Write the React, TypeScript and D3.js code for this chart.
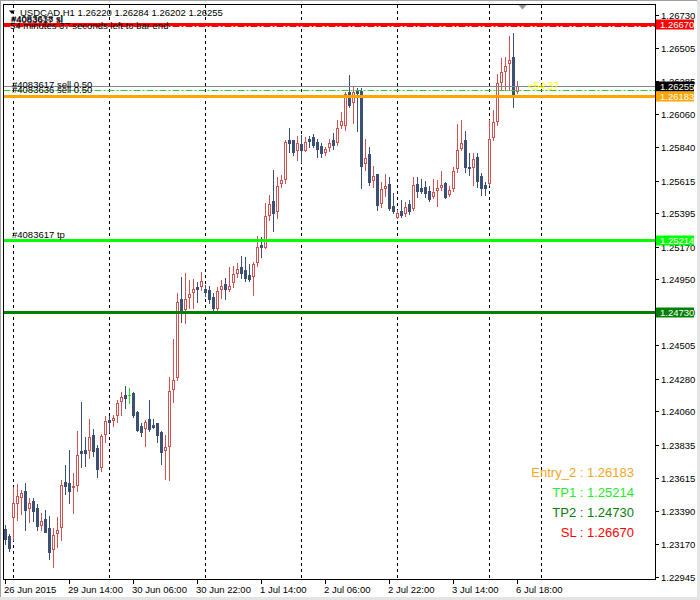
import React from 'react';
import * as d3 from 'd3';

// ---------- data ----------
const symbolTitle = 'USDCAD,H1  1.26220 1.26284 1.26202 1.26255';

const opens = [
  1.23270, 1.23221, 1.23351, 1.23445, 1.23486, 1.23524, 1.23412, 1.23457, 1.23410, 1.23297,
  1.23336, 1.23275, 1.23132, 1.23243, 1.23280, 1.23585, 1.23576, 1.23549, 1.23567, 1.23793,
  1.23800, 1.23802, 1.23901, 1.23814, 1.23688, 1.23906, 1.24000, 1.24002, 1.24034, 1.24128,
  1.24171, 1.24171, 1.24184, 1.24056, 1.23962, 1.23946, 1.24009, 1.23969, 1.23982, 1.23921,
  1.23802, 1.23829, 1.24213, 1.24294, 1.24815, 1.24748, 1.24828, 1.24866, 1.24900, 1.24905,
  1.24884, 1.24878, 1.24833, 1.24758, 1.24884, 1.24918, 1.24884, 1.24932, 1.24994, 1.25033,
  1.25012, 1.24979, 1.24970, 1.25068, 1.25181, 1.25169, 1.25383, 1.25479, 1.25412, 1.25596,
  1.25627, 1.25888, 1.25888, 1.25820, 1.25861, 1.25820, 1.25894, 1.25906, 1.25876, 1.25847,
  1.25809, 1.25839, 1.25888, 1.25876, 1.25989, 1.25989, 1.26213, 1.26146, 1.26224, 1.26218,
  1.25735, 1.25794, 1.25618, 1.25659, 1.25466, 1.25567, 1.25591, 1.25443, 1.25371, 1.25412,
  1.25398, 1.25457, 1.25428, 1.25589, 1.25567, 1.25573, 1.25544, 1.25513, 1.25551, 1.25573,
  1.25600, 1.25522, 1.25563, 1.25697, 1.25832, 1.25888, 1.25708, 1.25708, 1.25775, 1.25645,
  1.25585, 1.25596, 1.25910, 1.26018, 1.26280, 1.26354, 1.26404, 1.26445, 1.26220,
];
const highs = [
  1.23295, 1.23235, 1.23553, 1.23571, 1.23531, 1.23576, 1.23477, 1.23477, 1.23437, 1.23376,
  1.23396, 1.23356, 1.23273, 1.23351, 1.23598, 1.23699, 1.23800, 1.23643, 1.23928, 1.24123,
  1.23890, 1.24009, 1.23942, 1.23834, 1.23908, 1.24029, 1.24029, 1.24036, 1.24137, 1.24193,
  1.24231, 1.24216, 1.24193, 1.24063, 1.23980, 1.24002, 1.24137, 1.24007, 1.23985, 1.23930,
  1.23901, 1.24290, 1.24548, 1.24855, 1.24967, 1.24994, 1.24945, 1.24955, 1.24934, 1.24996,
  1.24911, 1.24907, 1.24860, 1.24900, 1.24945, 1.24956, 1.25030, 1.25039, 1.25057, 1.25107,
  1.25102, 1.25051, 1.25068, 1.25241, 1.25233, 1.25462, 1.25517, 1.25686, 1.25641, 1.25652,
  1.25888, 1.25967, 1.25890, 1.25915, 1.25921, 1.25910, 1.25915, 1.25928, 1.25892, 1.25866,
  1.25843, 1.25895, 1.25933, 1.26022, 1.26078, 1.26209, 1.26325, 1.26247, 1.26236, 1.26236,
  1.25895, 1.25839, 1.25713, 1.25662, 1.25607, 1.25659, 1.25641, 1.25533, 1.25416, 1.25484,
  1.25472, 1.25484, 1.25637, 1.25641, 1.25623, 1.25614, 1.25578, 1.25625, 1.25618, 1.25679,
  1.25607, 1.25578, 1.25704, 1.25996, 1.26022, 1.25950, 1.25798, 1.25798, 1.25798, 1.25664,
  1.25607, 1.26022, 1.26090, 1.26332, 1.26438, 1.26449, 1.26588, 1.26610, 1.26284,
];
const lows = [
  1.23167, 1.23122, 1.23194, 1.23329, 1.23369, 1.23261, 1.23317, 1.23322, 1.23261, 1.23261,
  1.23246, 1.23066, 1.23014, 1.23149, 1.23194, 1.23502, 1.23441, 1.23378, 1.23526, 1.23688,
  1.23692, 1.23744, 1.23762, 1.23620, 1.23661, 1.23856, 1.23921, 1.23962, 1.23991, 1.24036,
  1.24083, 1.24119, 1.24024, 1.23928, 1.23894, 1.23827, 1.23930, 1.23946, 1.23854, 1.23706,
  1.23603, 1.23598, 1.24125, 1.24272, 1.24664, 1.24657, 1.24754, 1.24754, 1.24795, 1.24878,
  1.24837, 1.24788, 1.24731, 1.24731, 1.24822, 1.24815, 1.24871, 1.24900, 1.24967, 1.24958,
  1.24940, 1.24938, 1.24844, 1.25037, 1.25102, 1.25161, 1.25349, 1.25277, 1.25361, 1.25573,
  1.25600, 1.25809, 1.25787, 1.25753, 1.25742, 1.25816, 1.25839, 1.25843, 1.25775, 1.25775,
  1.25787, 1.25816, 1.25825, 1.25854, 1.25967, 1.25955, 1.26110, 1.26004, 1.25950, 1.25563,
  1.25686, 1.25585, 1.25569, 1.25416, 1.25439, 1.25511, 1.25416, 1.25396, 1.25362, 1.25371,
  1.25376, 1.25389, 1.25416, 1.25506, 1.25531, 1.25506, 1.25479, 1.25497, 1.25443, 1.25551,
  1.25497, 1.25511, 1.25544, 1.25674, 1.25820, 1.25674, 1.25652, 1.25585, 1.25573, 1.25517,
  1.25517, 1.25585, 1.25888, 1.25989, 1.26224, 1.26224, 1.26224, 1.26112, 1.26202,
];
const closes = [
  1.23201, 1.23142, 1.23441, 1.23490, 1.23509, 1.23396, 1.23441, 1.23392, 1.23290, 1.23320,
  1.23250, 1.23115, 1.23228, 1.23261, 1.23563, 1.23560, 1.23526, 1.23560, 1.23765, 1.23782,
  1.23782, 1.23888, 1.23796, 1.23674, 1.23893, 1.23996, 1.23989, 1.24016, 1.24117, 1.24155,
  1.24152, 1.24171, 1.24038, 1.23937, 1.23923, 1.23989, 1.23944, 1.23953, 1.23901, 1.23789,
  1.23820, 1.24198, 1.24272, 1.24795, 1.24732, 1.24815, 1.24851, 1.24882, 1.24886, 1.24936,
  1.24862, 1.24814, 1.24758, 1.24871, 1.24905, 1.24884, 1.24905, 1.24985, 1.25017, 1.24994,
  1.24956, 1.24955, 1.25053, 1.25169, 1.25169, 1.25376, 1.25457, 1.25398, 1.25578, 1.25618,
  1.25874, 1.25870, 1.25809, 1.25866, 1.25820, 1.25876, 1.25881, 1.25854, 1.25825, 1.25802,
  1.25825, 1.25866, 1.25854, 1.25967, 1.26018, 1.26196, 1.26123, 1.26209, 1.26202, 1.25713,
  1.25765, 1.25607, 1.25645, 1.25450, 1.25556, 1.25578, 1.25428, 1.25412, 1.25394, 1.25383,
  1.25439, 1.25412, 1.25585, 1.25544, 1.25546, 1.25529, 1.25488, 1.25536, 1.25567, 1.25585,
  1.25506, 1.25551, 1.25679, 1.25820, 1.25866, 1.25704, 1.25701, 1.25758, 1.25614, 1.25567,
  1.25567, 1.25892, 1.26011, 1.26270, 1.26348, 1.26386, 1.26427, 1.26191, 1.26255,
];

const timeLabels = [
  '26 Jun 2015', '29 Jun 14:00', '30 Jun 06:00', '30 Jun 22:00', '1 Jul 14:00',
  '2 Jul 06:00', '2 Jul 22:00', '3 Jul 14:00', '6 Jul 18:00',
];
const timeLabelBars = [0, 16, 32, 48, 64, 80, 96, 112, 128];
const gridBars = [2, 26, 50, 74, 98, 121, 134];

const priceTicks = [
  1.26730, 1.26505, 1.26285, 1.26060, 1.25840, 1.25615, 1.25395, 1.25170, 1.24950,
  1.24730, 1.24505, 1.24280, 1.24060, 1.23835, 1.23615, 1.23390, 1.23170, 1.22945,
];

const levelNames = ['SL', 'Entry_2', 'TP1', 'TP2'];
const levelPrices = [1.26670, 1.26183, 1.25214, 1.24730];
const legendOrder = ['Entry_2', 'TP1', 'TP2', 'SL'];
const bidPrice = 1.26255;
const orderPrices = [1.26222, 1.26186];
const orderLabels = ['#4083617 sell 0.50', '#4083636 sell 0.50'];
const stopOrderPrice = 1.26657;
const stopLabels = ['#4083638 sl', '#4083617 sl'];
const tpLabel = '#4083617 tp';
const timerText = '54 minutes 37 seconds left to bar end';
const timerShort = '<54:37';

// ---------- styles ----------
const FONT = '"Liberation Sans", Arial, sans-serif';
const FS = 9.5;
const BULL = '#d25252';
const BEAR = '#3c4f74';
const DOJI = '#22dd22';
const levelColor: Record<string, string> = {
  SL: '#ff0000',
  Entry_2: '#ffa500',
  TP1: '#00ff00',
  TP2: '#008000',
};
const legendColor: Record<string, string> = {
  SL: '#ff0000',
  Entry_2: '#f5a623',
  TP1: '#22ee22',
  TP2: '#0a7d0a',
};

export default function App() {
  const W = 700, H = 600;
  const L = 3.5, T = 4.5, R = 655.5, B = 579.5;
  const x = d3.scaleLinear().domain([0, 128]).range([5, 517]);
  const y = d3.scaleLinear().domain([1.22945, 1.26730]).range([577, 15]);
  const py = (p: number) => Math.round(y(p));

  const candles = opens.map((o, i) => {
    const c = closes[i], h = highs[i], l = lows[i];
    const cx = x(i) + 0.5;
    const yo = py(o), yc = py(c), yh = py(h), yl = py(l);
    const top = Math.min(yo, yc), bot = Math.max(yo, yc);
    if (c > o) {
      return (
        <g key={i}>
          <line x1={cx} x2={cx} y1={yh} y2={yl + 1} stroke={BULL} strokeWidth={1} />
          <rect x={cx - 1} y={top + 0.5} width={2} height={Math.max(bot - top, 1)} fill="#fff" stroke={BULL} strokeWidth={1} />
        </g>
      );
    } else if (c < o) {
      return (
        <g key={i}>
          <line x1={cx} x2={cx} y1={yh} y2={yl + 1} stroke={BEAR} strokeWidth={1} />
          <rect x={cx - 1.5} y={top} width={3} height={bot - top + 1} fill={BEAR} />
        </g>
      );
    }
    return (
      <g key={i}>
        <line x1={cx} x2={cx} y1={yh} y2={yl + 1} stroke={DOJI} strokeWidth={1} />
        <line x1={cx - 1.5} x2={cx + 1.5} y1={yo + 0.5} y2={yo + 0.5} stroke={DOJI} strokeWidth={1} />
      </g>
    );
  });

  const hline = (p: number, color: string, width: number, dash?: string, key?: string) => (
    <line key={key} x1={L} x2={R} y1={py(p) + 0.5} y2={py(p) + 0.5} stroke={color} strokeWidth={width} strokeDasharray={dash} />
  );

  const boxes = [
    { p: levelPrices[levelNames.indexOf('SL')], fill: levelColor.SL },
    { p: bidPrice, fill: '#000000' },
    { p: levelPrices[levelNames.indexOf('Entry_2')], fill: levelColor.Entry_2 },
    { p: levelPrices[levelNames.indexOf('TP1')], fill: levelColor.TP1 },
    { p: levelPrices[levelNames.indexOf('TP2')], fill: levelColor.TP2 },
  ];

  return (
    <svg width={W} height={H} style={{ position: 'absolute', left: 0, top: 0, display: 'block' }} fontFamily={FONT}>
      <defs>
        <clipPath id="plotClip">
          <rect x={4} y={5} width={651} height={574} />
        </clipPath>
      </defs>
      <rect x={0} y={0} width={W} height={H} fill="#ffffff" />
      {/* window borders */}
      <rect x={697} y={0} width={3} height={H} fill="#e4e4e4" />
      <rect x={0} y={597} width={W} height={3} fill="#e4e4e4" />
      <line x1={0.5} x2={0.5} y1={0} y2={597} stroke="#a0a0a0" />
      <line x1={0} x2={697} y1={0.5} y2={0.5} stroke="#a0a0a0" />

      <g clipPath="url(#plotClip)">
        {gridBars.map((b) => (
          <line key={'g' + b} x1={x(b) + 0.5} x2={x(b) + 0.5} y1={5} y2={579} stroke="#000" strokeWidth={1} strokeDasharray="3,3" />
        ))}
        {candles}
        {hline(stopOrderPrice, '#ff0000', 1, '7,2,2,2', 'slo')}
        {hline(levelPrices[levelNames.indexOf('SL')], levelColor.SL, 3, undefined, 'sl')}
        {hline(bidPrice, '#778899', 1, undefined, 'bid')}
        {orderPrices.map((p, i) => hline(p, '#32cd32', 1, '7,2,2,2', 'o' + i))}
        {hline(levelPrices[levelNames.indexOf('Entry_2')], levelColor.Entry_2, 3, undefined, 'e2')}
        {hline(levelPrices[levelNames.indexOf('TP1')], levelColor.TP1, 3, undefined, 'tp1')}
        {hline(levelPrices[levelNames.indexOf('TP2')], levelColor.TP2, 3, undefined, 'tp2')}

        {/* texts in plot */}
        <path d="M9,10.5 L15,10.5 L12,14 Z" fill="#000" />
        <text x={20} y={16} fontSize={FS} fill="#000">{symbolTitle}</text>
        <text x={11} y={21.5} fontSize={FS} fill="#000">{stopLabels[0]}</text>
        <text x={11} y={22.5} fontSize={FS} fill="#000">{stopLabels[1]}</text>
        <text x={10} y={28.5} fontSize={FS} fill="#000">{timerText}</text>
        <text x={12} y={88} fontSize={FS} fill="#000">{orderLabels[0]}</text>
        <text x={12} y={92.5} fontSize={FS} fill="#000">{orderLabels[1]}</text>
        <text x={12} y={237.5} fontSize={FS} fill="#000">{tpLabel}</text>
        <text x={528} y={89.5} fontSize={10} fill="#ffff00">{timerShort}</text>
        <path d="M518,4.5 L527,4.5 L522.5,9.5 Z" fill="#8a97a6" />

        {legendOrder.map((name, i) => (
          <text key={name} x={634} y={476.5 + i * 20} fontSize={13} textAnchor="end" fill={legendColor[name]}>
            {name} : {levelPrices[levelNames.indexOf(name)].toFixed(5)}
          </text>
        ))}
      </g>

      {/* frame */}
      <rect x={L} y={T} width={R - L} height={B - T} fill="none" stroke="#000" strokeWidth={1} />

      {/* price axis */}
      {priceTicks.map((p) => (
        <g key={'p' + p}>
          <line x1={655} x2={659} y1={py(p) + 0.5} y2={py(p) + 0.5} stroke="#000" />
          <text x={661} y={py(p) + 3.5} fontSize={FS} fill="#000">{p.toFixed(5)}</text>
        </g>
      ))}
      {boxes.map((b, i) => (
        <g key={'b' + i}>
          <rect x={656} y={py(b.p) - 4.5} width={38} height={10} fill={b.fill} />
          <text x={660} y={py(b.p) + 4} fontSize={FS} fill="#fff">{b.p.toFixed(5)}</text>
        </g>
      ))}

      {/* time axis */}
      {timeLabelBars.map((b, i) => (
        <g key={'t' + b}>
          <line x1={x(b) + 0.5} x2={x(b) + 0.5} y1={579} y2={584} stroke="#000" />
          <text x={x(b) - 1} y={593} fontSize={FS} fill="#000">{timeLabels[i]}</text>
        </g>
      ))}
    </svg>
  );
}
